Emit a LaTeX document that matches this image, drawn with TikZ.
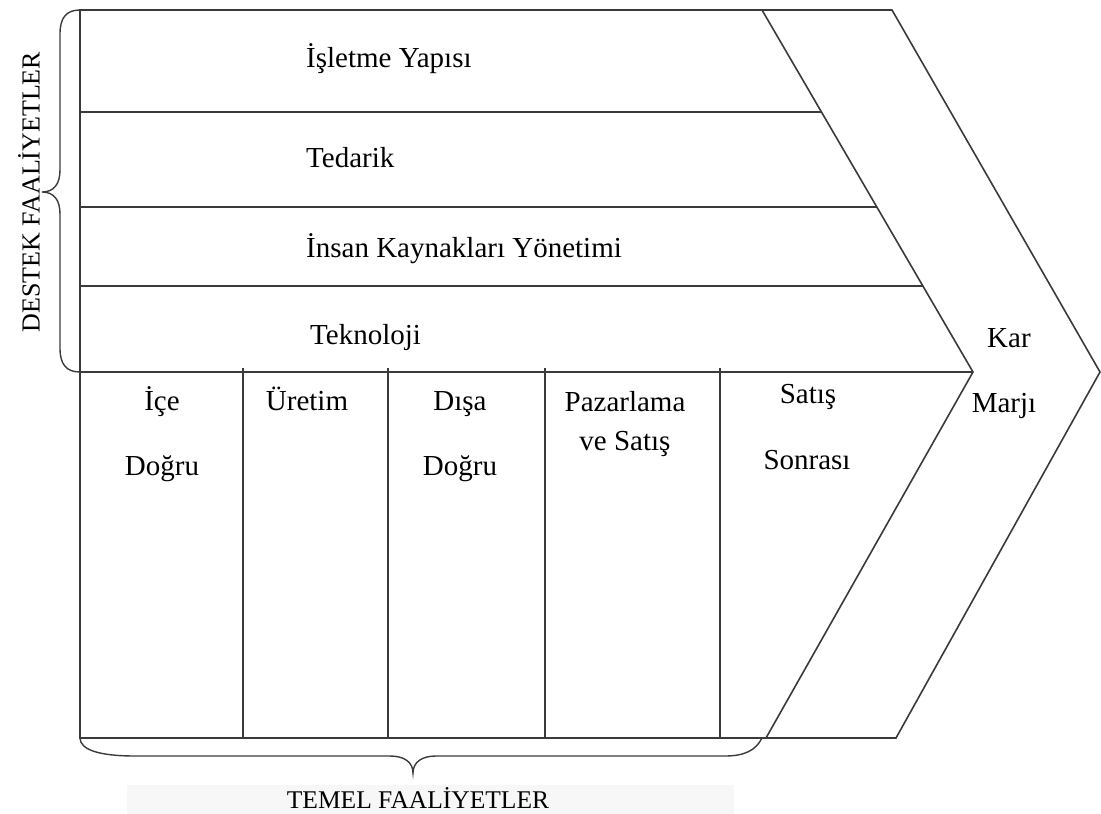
\documentclass[tikz,border=0pt]{standalone}
\usepackage{fontspec}
\setmainfont{Liberation Serif}
\usetikzlibrary{calc}
\definecolor{ln}{HTML}{3A3A3A}
\definecolor{bgg}{HTML}{F7F7F7}
\tikzset{
  frame/.style={draw=ln, line width=1.6pt, line join=miter},
  divider/.style={draw=ln, line width=1.5pt},
  bracepath/.style={draw=ln, line width=1.4pt},
  lbl/.style={inner sep=0pt, font=\fontsize{29}{34}\selectfont},
  side/.style={inner sep=0pt, font=\fontsize{26}{30}\selectfont},
}
\begin{document}
\begin{tikzpicture}[x=1pt,y=-1pt]
\useasboundingbox (0,0) rectangle (1101,814);
% light background behind bottom caption
\fill[bgg] (127,785) rectangle (734,814);
% named corners
\coordinate (tl) at (80,10);
\coordinate (ot) at (892,10);
\coordinate (tip) at (1100,372);
\coordinate (ob) at (896,738);
\coordinate (bl) at (80,738);
\coordinate (it) at (762,10);
\coordinate (im) at (973,372);
\coordinate (ib) at (766,738);
% outer chevron
\draw[frame] (tl) -- (ot) -- (tip) -- (ob) -- (bl) -- cycle;
% inner chevron
\draw[frame] (it) -- (im) -- (ib);
% horizontal separators of support activities
\draw[frame] (80,112) -- ($(it)!{102/362}!(im)$);
\draw[frame] (80,207) -- ($(it)!{197/362}!(im)$);
\draw[frame] (80,286) -- ($(it)!{276/362}!(im)$);
\draw[frame] (80,372) -- (im);
% vertical dividers of primary activities
\foreach \xx in {243,388,545,720}{
  \draw[divider] (\xx,368) -- (\xx,738);
}
% left brace
\draw[bracepath] (80,10) .. controls (66,10) and (60,18) .. (60,34)
  -- (60,170) .. controls (60,184) and (54,192) .. (42,192)
  .. controls (54,192) and (60,200) .. (60,214)
  -- (60,348) .. controls (60,364) and (66,372) .. (80,372);
% bottom brace
\draw[bracepath] (80,738) .. controls (80,750) and (100,756) .. (135,756)
  -- (390,756) .. controls (404,756) and (413,762) .. (413,773)
  .. controls (413,762) and (422,756) .. (436,756)
  -- (725,756) .. controls (745,756) and (756,750) .. (762,738);
% support activity labels
\node[lbl, anchor=base west] (isl) at (306,67) {İşletme Yapısı};
\node[lbl, anchor=base west] (ted) at (306,167) {Tedarik};
\node[lbl, anchor=base west] (ikn) at (306,257) {İnsan Kaynakları Yönetimi};
\node[lbl, anchor=base west] (tek) at (310,344) {Teknoloji};
% primary activity labels
\node[lbl, anchor=base] (ice) at (162,410) {İçe};
\node[lbl, anchor=base] (dog1) at (162,475) {Doğru};
\node[lbl, anchor=base] (ure) at (307,410) {Üretim};
\node[lbl, anchor=base] (dis) at (460,410) {Dışa};
\node[lbl, anchor=base] (dog2) at (460,475) {Doğru};
\node[lbl, anchor=base] (paz) at (625,411) {Pazarlama};
\node[lbl, anchor=base] (ves) at (625,450) {ve Satış};
\node[lbl, anchor=base] (sat) at (808,403) {Satış};
\node[lbl, anchor=base] (son) at (807,469) {Sonrası};
% margin labels
\node[lbl, anchor=base west] (kar) at (987,347) {Kar};
\node[lbl, anchor=base] (mar) at (1004,412) {Marjı};
% group captions
\node[side, rotate=90, anchor=center] (dest) at (29,192) {DESTEK FAALİYETLER};
\node[side, font=\fontsize{25.5}{30}\selectfont, anchor=base] (temel) at (418,808) {TEMEL FAALİYETLER};
\end{tikzpicture}
\end{document}
